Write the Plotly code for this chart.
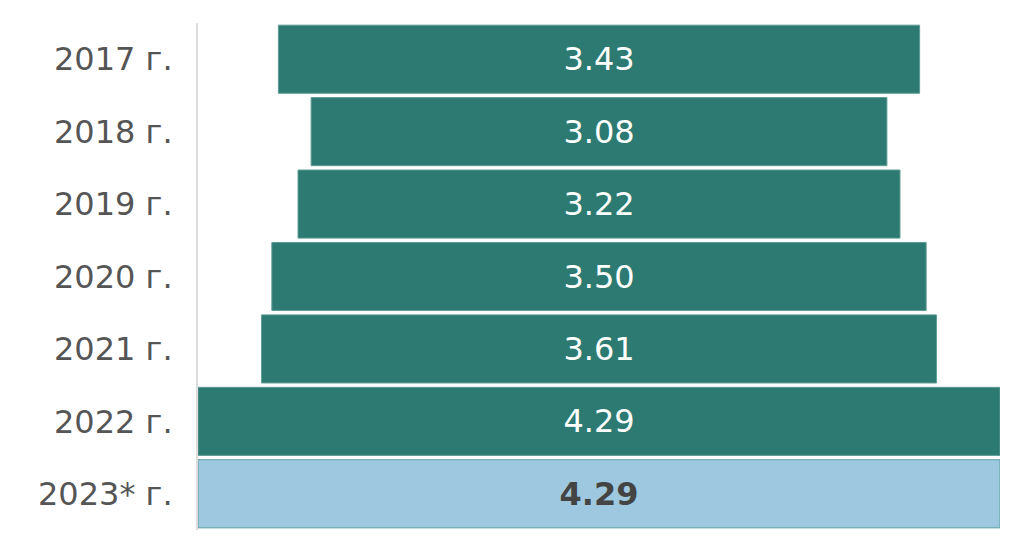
import plotly.graph_objects as go

years = ["2017 г.", "2018 г.", "2019 г.", "2020 г.", "2021 г.", "2022 г.", "2023* г."]
values = [3.43, 3.08, 3.22, 3.50, 3.61, 4.29, 4.29]
bar_colors = ["#2c7a72"] * 6 + ["#9dc8df"]
edge_colors = ["#5e9c96"] * 6 + ["#5a9e9c"]
text_colors = ["#ffffff"] * 6 + ["#444444"]
templates = ["%{x:.2f}"] * 6 + ["<b>%{x:.2f}</b>"]

font_family = "Verdana, DejaVu Sans, sans-serif"

fig = go.Figure(go.Funnel(
    y=years,
    x=values,
    marker=dict(color=bar_colors, line=dict(color=edge_colors, width=1)),
    texttemplate=templates,
    textposition="inside",
    insidetextanchor="middle",
    textfont=dict(family=font_family, size=32, color=text_colors),
    connector=dict(visible=False),
    hoverinfo="x+y",
))

half = max(values) / 2
fig.update_layout(
    width=1008, height=538,
    margin=dict(l=190, r=16, t=15, b=16),
    paper_bgcolor="white", plot_bgcolor="white",
    showlegend=False,
    funnelgap=0.06,
    font=dict(family=font_family),
    xaxis=dict(visible=False, range=[-half, half], fixedrange=True),
    yaxis=dict(
        showline=True, linecolor="#dddddd", linewidth=2,
        showgrid=False, zeroline=False,
        ticks="outside", ticklen=17, tickcolor="rgba(0,0,0,0)",
        tickfont=dict(family=font_family, size=32, color="#555555"),
    ),
)

fig.write_html("out.html")
